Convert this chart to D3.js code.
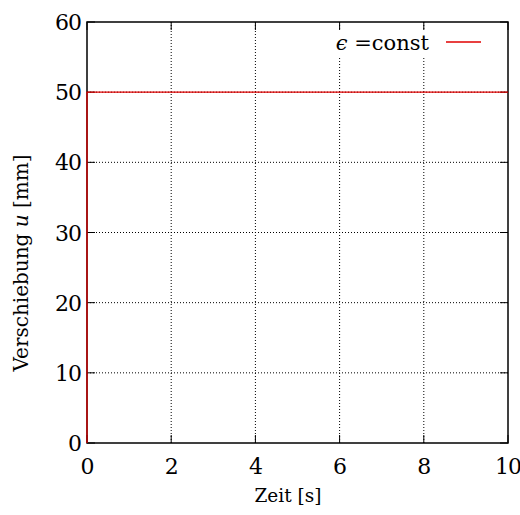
<!DOCTYPE html>
<html>
<head>
<meta charset="utf-8">
<script src="https://cdn.jsdelivr.net/npm/d3@7"></script>
<style>
  body { margin: 0; background: #fff; }
  svg text { font-family: "DejaVu Serif"; }
</style>
</head>
<body>
<div id="chart"></div>
<script>
// data
const time = [0, 0, 10];
const displacement = [0, 50, 50];
const xTicks = [0, 2, 4, 6, 8, 10];
const yTicks = [0, 10, 20, 30, 40, 50, 60];
const seriesLabel = "const";

const width = 520, height = 515;
const margin = { top: 22, right: 12, bottom: 72, left: 87 };
const innerW = width - margin.left - margin.right;
const innerH = height - margin.top - margin.bottom;

const svg = d3.select("#chart").append("svg")
    .attr("width", width)
    .attr("height", height);

const g = svg.append("g")
    .attr("transform", `translate(${margin.left}, ${margin.top})`);

const x = d3.scaleLinear().domain([0, 10]).range([0, innerW]);
const y = d3.scaleLinear().domain([0, 60]).range([innerH, 0]);

// grid
g.selectAll(".vgrid")
    .data(xTicks.slice(1, -1))
    .enter().append("line")
    .attr("x1", d => x(d)).attr("x2", d => x(d))
    .attr("y1", 0).attr("y2", innerH)
    .attr("stroke", "#000").attr("stroke-width", 1)
    .attr("stroke-dasharray", "1,2");

g.selectAll(".hgrid")
    .data(yTicks.slice(1, -1))
    .enter().append("line")
    .attr("y1", d => y(d)).attr("y2", d => y(d))
    .attr("x1", 0).attr("x2", innerW)
    .attr("stroke", "#000").attr("stroke-width", 1)
    .attr("stroke-dasharray", "1,2");

// legend background hides grid under key
g.append("rect")
    .attr("x", 240).attr("y", 8)
    .attr("width", 160).attr("height", 26)
    .attr("fill", "#fff");

// ticks (inward, on all sides)
const tl = 8;
xTicks.forEach(t => {
    g.append("line").attr("x1", x(t)).attr("x2", x(t)).attr("y1", innerH).attr("y2", innerH - tl).attr("stroke", "#000");
    g.append("line").attr("x1", x(t)).attr("x2", x(t)).attr("y1", 0).attr("y2", tl).attr("stroke", "#000");
});
yTicks.forEach(t => {
    g.append("line").attr("y1", y(t)).attr("y2", y(t)).attr("x1", 0).attr("x2", tl).attr("stroke", "#000");
    g.append("line").attr("y1", y(t)).attr("y2", y(t)).attr("x1", innerW).attr("x2", innerW - tl).attr("stroke", "#000");
});

// tick labels
g.selectAll(".xlab")
    .data(xTicks)
    .enter().append("text")
    .attr("x", d => x(d))
    .attr("y", innerH + 31)
    .attr("text-anchor", "middle")
    .style("font-size", "22px")
    .style("letter-spacing", "-1px")
    .text(d => d);

g.selectAll(".ylab")
    .data(yTicks)
    .enter().append("text")
    .attr("x", -6)
    .attr("y", d => y(d) + 8)
    .attr("text-anchor", "end")
    .style("font-size", "22px")
    .style("letter-spacing", "-1px")
    .text(d => d);

// border
g.append("rect")
    .attr("width", innerW).attr("height", innerH)
    .attr("fill", "none").attr("stroke", "#000").attr("stroke-width", 1.5);

// data line
const line = d3.line()
    .x((d, i) => x(time[i]))
    .y(d => y(d));

g.append("path")
    .datum(displacement)
    .attr("d", line)
    .attr("fill", "none")
    .attr("stroke", "#e00000")
    .attr("stroke-width", 1.3);

// legend
const key = g.append("text")
    .attr("x", 342)
    .attr("y", 28)
    .attr("text-anchor", "end")
    .style("font-size", "21px");
key.append("tspan").style("font-style", "italic").text("\u03F5");
key.append("tspan").text(" =" + seriesLabel);

g.append("line")
    .attr("x1", 359).attr("x2", 394)
    .attr("y1", 20).attr("y2", 20)
    .attr("stroke", "#e00000").attr("stroke-width", 1.3);

// axis titles
svg.append("text")
    .attr("x", 288)
    .attr("y", 502)
    .attr("text-anchor", "middle")
    .style("font-size", "18.5px")
    .text("Zeit [s]");

const yt = svg.append("text")
    .attr("transform", "translate(28, 263) rotate(-90)")
    .attr("text-anchor", "middle")
    .style("font-size", "20px");
yt.append("tspan").text("Verschiebung ");
yt.append("tspan").style("font-style", "italic").text("u");
yt.append("tspan").text(" [mm]");
</script>
</body>
</html>
